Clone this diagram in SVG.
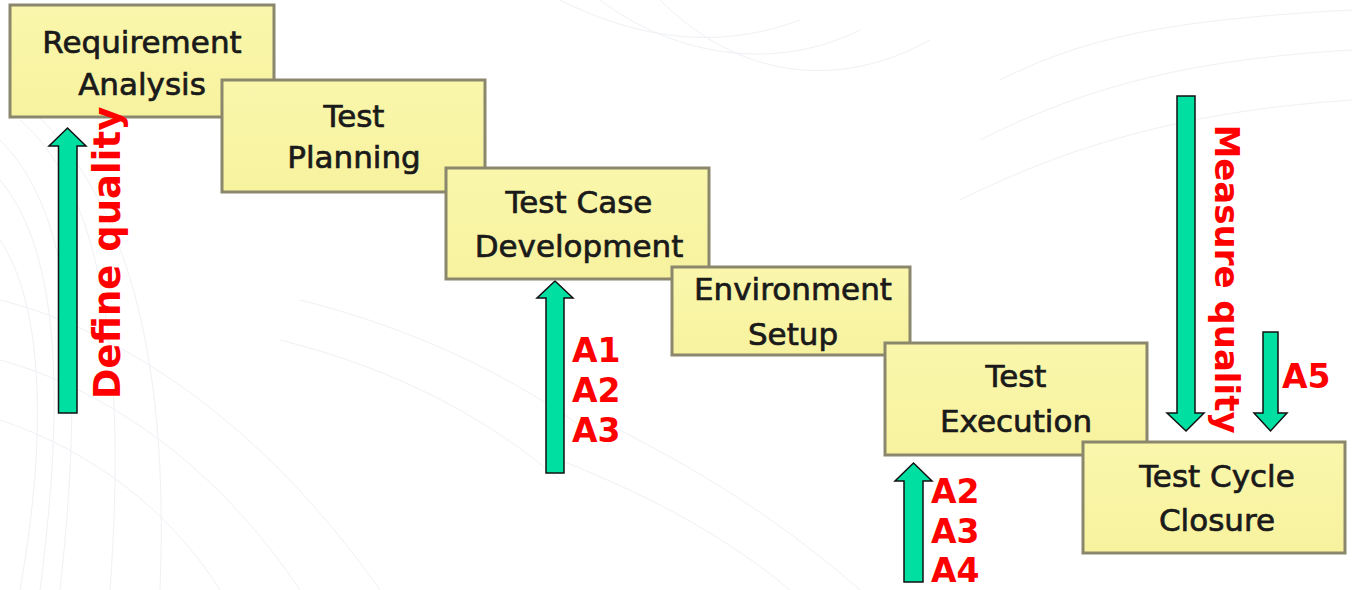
<svg xmlns="http://www.w3.org/2000/svg" width="1352" height="590" viewBox="0 0 1352 590">
  <defs>
    <linearGradient id="boxFill" x1="0" y1="0" x2="0" y2="1">
      <stop offset="0" stop-color="#FAF7AC"/>
      <stop offset="1" stop-color="#F7F29E"/>
    </linearGradient>
  </defs>
  <style>
    .box { fill: url(#boxFill); stroke: #8A876C; stroke-width: 3; }
    .lbl { font-family: "DejaVu Sans", "Liberation Sans", sans-serif; font-size: 31px; fill: #1A1A1A; stroke: #1A1A1A; stroke-width: 0.7; text-anchor: middle; }
    .red { font-family: "DejaVu Sans", "Liberation Sans", sans-serif; font-weight: bold; fill: #FF0000; }
    .arrow { fill: #00DFA2; stroke: #111111; stroke-width: 1.5; stroke-linejoin: miter; }
    .bg { fill: none; stroke: #EBEEF3; stroke-width: 1; }
  </style>
  <rect width="1352" height="590" fill="#FFFFFF"/>
  <g id="background" opacity="0.8">
    <path class="bg" d="M0,140 C60,200 90,320 60,590"/>
    <path class="bg" d="M0,180 C50,240 70,360 40,590"/>
    <path class="bg" d="M0,240 C40,300 50,420 20,590"/>
    <path class="bg" d="M20,120 C90,180 130,320 110,590"/>
    <path class="bg" d="M40,118 C120,200 170,340 160,590"/>
    <path class="bg" d="M0,300 C120,330 260,420 380,590"/>
    <path class="bg" d="M0,360 C110,390 220,470 300,590"/>
    <path class="bg" d="M0,420 C90,450 170,510 220,590"/>
    <path class="bg" d="M560,0 C640,40 720,50 800,20"/>
    <path class="bg" d="M600,0 C680,60 780,70 860,30"/>
    <path class="bg" d="M660,0 C740,80 840,90 930,40"/>
    <path class="bg" d="M1000,80 C1080,40 1160,20 1352,10"/>
    <path class="bg" d="M980,140 C1080,90 1180,60 1352,50"/>
    <path class="bg" d="M960,200 C1080,140 1200,110 1352,100"/>
    <path class="bg" d="M600,420 C700,470 780,520 860,590"/>
    <path class="bg" d="M560,460 C660,500 730,540 790,590"/>
    <path class="bg" d="M300,300 C420,330 520,380 600,440"/>
    <path class="bg" d="M280,340 C400,370 490,420 560,480"/>
  </g>

  <g id="connectors">
    <path class="arrow" d="M58.5,413 L58.5,146 L49,146 L67.5,128 L86,146 L77,146 L77,413 Z"/>
    <path class="arrow" d="M546,473 L546,298 L537,298 L555,281 L573,298 L564,298 L564,473 Z"/>
    <path class="arrow" d="M904,582 L904,481 L895,481 L913.5,463 L932,481 L923,481 L923,582 Z"/>
    <path class="arrow" d="M1177,96 L1195,96 L1195,413 L1204,413 L1186,431 L1167,413 L1177,413 Z"/>
    <path class="arrow" d="M1263,332 L1278,332 L1278,413 L1287,413 L1270.5,431 L1254,413 L1263,413 Z"/>
  </g>

  <g id="node-requirement-analysis">
    <rect class="box" x="10" y="5" width="264" height="112"/>
    <text class="lbl" x="142" y="53">Requirement</text>
    <text class="lbl" x="142" y="95">Analysis</text>
  </g>
  <g id="node-test-planning">
    <rect class="box" x="222" y="80" width="263" height="112"/>
    <text class="lbl" x="354" y="127">Test</text>
    <text class="lbl" x="354" y="168">Planning</text>
  </g>
  <g id="node-test-case-development">
    <rect class="box" x="446" y="168" width="263" height="111"/>
    <text class="lbl" x="579" y="213">Test Case</text>
    <text class="lbl" x="579" y="257">Development</text>
  </g>
  <g id="node-environment-setup">
    <rect class="box" x="672" y="267" width="238" height="88"/>
    <text class="lbl" x="793" y="300">Environment</text>
    <text class="lbl" x="793" y="345">Setup</text>
  </g>
  <g id="node-test-execution">
    <rect class="box" x="885" y="343" width="262" height="112"/>
    <text class="lbl" x="1016" y="387">Test</text>
    <text class="lbl" x="1016" y="432">Execution</text>
  </g>
  <g id="node-test-cycle-closure">
    <rect class="box" x="1083" y="442" width="262" height="111"/>
    <text class="lbl" x="1217" y="487">Test Cycle</text>
    <text class="lbl" x="1217" y="531">Closure</text>
  </g>

  <g id="labels">
    <text class="red" font-size="37" transform="translate(120,253) rotate(-90)" text-anchor="middle">Define quality</text>
    <text class="red" font-size="34" transform="translate(1215,279) rotate(90)" text-anchor="middle">Measure quality</text>
    <text class="red" font-size="33" x="572" y="362">A1</text>
    <text class="red" font-size="33" x="572" y="402">A2</text>
    <text class="red" font-size="33" x="572" y="442">A3</text>
    <text class="red" font-size="33" x="931" y="503">A2</text>
    <text class="red" font-size="33" x="931" y="543">A3</text>
    <text class="red" font-size="33" x="931" y="582">A4</text>
    <text class="red" font-size="33" x="1282" y="388">A5</text>
  </g>
</svg>
